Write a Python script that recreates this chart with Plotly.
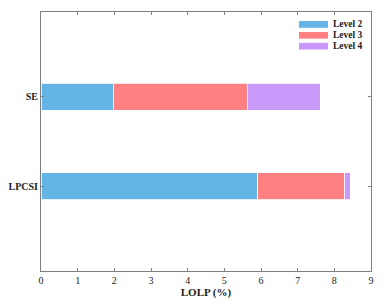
import plotly.graph_objects as go

categories = ["LPCSI", "SE"]
level2 = [5.91, 1.97]
level3 = [2.36, 3.66]
level4 = [0.17, 1.99]
series_names = ["Level 2", "Level 3", "Level 4"]
colors = ["#65b4e6", "#ff8080", "#c999f9"]
x_ticks = [0, 1, 2, 3, 4, 5, 6, 7, 8, 9]

fig = go.Figure()
for name, vals, c in zip(series_names, [level2, level3, level4], colors):
    fig.add_trace(go.Bar(
        y=categories, x=vals, name=name, orientation="h",
        marker=dict(color=c, line=dict(color="rgba(255,255,255,0.8)", width=1)),
        width=0.3, showlegend=False,
    ))

font = "Liberation Serif"
axis_common = dict(showline=True, mirror="allticks", linecolor="#808080", linewidth=1,
                   ticks="inside", ticklen=3, tickcolor="#808080", showgrid=False,
                   zeroline=False, automargin=False)
fig.update_layout(
    barmode="stack",
    width=384, height=303,
    margin=dict(l=41, r=13, t=12, b=32),
    plot_bgcolor="white", paper_bgcolor="white",
    font=dict(family=font, size=10, color="#222"),
    xaxis=dict(range=[0, 9], tickvals=x_ticks, ticktext=[str(v) for v in x_ticks],
               title=dict(text="<b>LOLP (%)</b>", font=dict(size=11, family=font), standoff=2),
               tickfont=dict(size=10, family=font), **axis_common),
    yaxis=dict(type="category", categoryorder="array", categoryarray=categories,
               range=[-0.95, 1.95], tickfont=dict(size=10, family=font), **axis_common),
)
fig.update_xaxes(tickprefix="<b>", ticksuffix="</b>")
fig.update_yaxes(tickprefix="<b>", ticksuffix="</b>")

# legend drawn in paper coords
legend_y = [0.952, 0.910, 0.868]
for name, c, yc in zip(series_names, colors, legend_y):
    fig.add_shape(type="rect", xref="paper", yref="paper",
                  x0=0.7818, x1=0.8697, y0=yc - 0.013, y1=yc + 0.013,
                  fillcolor=c, line=dict(width=0))
    fig.add_annotation(xref="paper", yref="paper", x=0.88, y=yc, text="<b>" + name + "</b>",
                       showarrow=False, xanchor="left", yanchor="middle",
                       font=dict(size=9.5, family=font, color="#222"))

fig.write_html("out.html", config={"displayModeBar": False},
               post_script="document.body.style.margin='0';document.body.style.overflow='hidden';")
